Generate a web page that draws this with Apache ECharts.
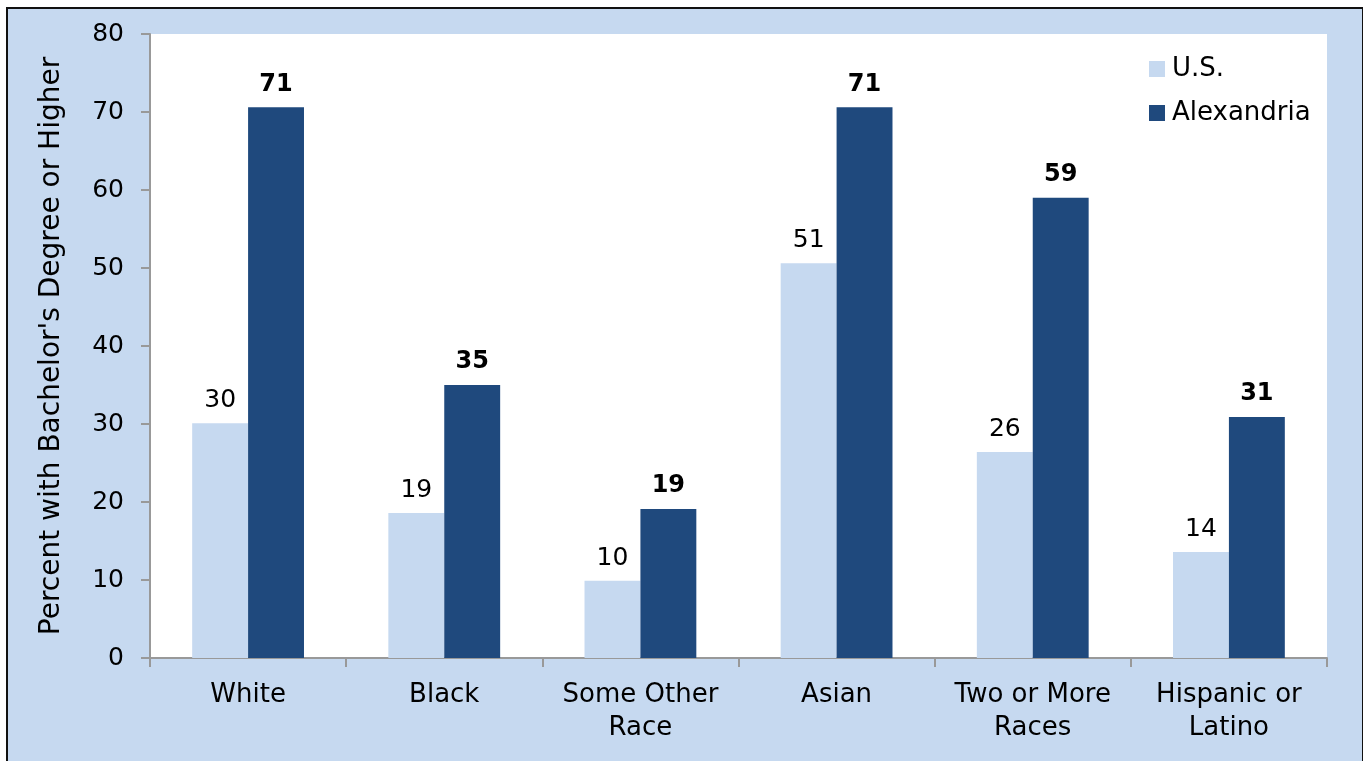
<!DOCTYPE html>
<html>
<head>
<meta charset="utf-8">
<script src="https://cdn.jsdelivr.net/npm/echarts@6/dist/echarts.min.js"></script>
<style>
    html, body {
        margin: 0;
        padding: 0;
        background: #fff;
    }

    .frame {
        position: absolute;
        left: 6px;
        top: 7px;
        width: 1354px;
        height: 770px;
        border: 2px solid #111;
        background: #c6d9f0;
    }

    #chart {
        position: absolute;
        left: 0;
        top: 0;
        width: 1363px;
        height: 761px;
    }
</style>
</head>
<body>
<div class="frame"></div>
<div id="chart"></div>
<script>
// 类别与数据
const categories = ['White', 'Black', 'Some Other\nRace', 'Asian', 'Two or More\nRaces', 'Hispanic or\nLatino'];
const usValues = [30.1, 18.6, 9.9, 50.6, 26.4, 13.6];
const alexValues = [70.6, 35.0, 19.1, 70.6, 59.0, 30.9];
const yTicks = [0, 10, 20, 30, 40, 50, 60, 70, 80];

const fontFamily = '"DejaVu Sans", Verdana, sans-serif';

var myChart = echarts.init(document.getElementById('chart'));

var options = {
    backgroundColor: 'transparent',
    textStyle: {
        fontFamily: fontFamily
    },
    legend: {
        orient: 'vertical',
        left: 1149,
        top: 56,
        padding: 0,
        itemWidth: 16,
        itemHeight: 16,
        itemGap: 18,
        icon: 'rect',
        textStyle: {
            color: '#000',
            fontSize: 26,
            fontFamily: fontFamily,
            padding: [0, 0, 0, 2]
        },
        data: ['U.S.', 'Alexandria']
    },
    grid: {
        left: 150,
        top: 34,
        right: 36,
        bottom: 103,
        show: true,
        backgroundColor: '#fff',
        borderWidth: 0
    },
    xAxis: {
        type: 'category',
        data: categories,
        axisLine: {
            show: true,
            lineStyle: { color: '#999', width: 2 }
        },
        axisTick: {
            show: true,
            length: 9,
            interval: 0,
            alignWithLabel: false,
            lineStyle: { color: '#999', width: 2 }
        },
        axisLabel: {
            interval: 0,
            color: '#000',
            fontSize: 26,
            lineHeight: 33,
            margin: 21,
            fontFamily: fontFamily
        }
    },
    yAxis: {
        type: 'value',
        min: yTicks[0],
        max: yTicks[yTicks.length - 1],
        interval: 10,
        name: "Percent with Bachelor's Degree or Higher",
        nameLocation: 'middle',
        nameGap: 84,
        nameTextStyle: {
            color: '#000',
            fontSize: 28,
            fontFamily: fontFamily
        },
        splitLine: { show: false },
        axisLine: {
            show: true,
            lineStyle: { color: '#999', width: 2 }
        },
        axisTick: {
            show: true,
            length: 9,
            lineStyle: { color: '#999', width: 2 }
        },
        axisLabel: {
            color: '#000',
            fontSize: 25,
            margin: 26,
            fontFamily: fontFamily
        }
    },
    series: [
        {
            name: 'U.S.',
            type: 'bar',
            data: usValues,
            barGap: '0%',
            barCategoryGap: '43%',
            itemStyle: { color: '#c6d9f0' },
            label: {
                show: true,
                position: 'top',
                distance: 10,
                color: '#000',
                fontSize: 25,
                fontFamily: fontFamily,
                formatter: (p) => Math.round(p.value)
            }
        },
        {
            name: 'Alexandria',
            type: 'bar',
            data: alexValues,
            barGap: '0%',
            barCategoryGap: '43%',
            itemStyle: { color: '#1f497d' },
            label: {
                show: true,
                position: 'top',
                distance: 11,
                color: '#000',
                fontSize: 24,
                fontWeight: 'bold',
                fontFamily: fontFamily,
                formatter: (p) => Math.round(p.value)
            }
        }
    ]
};

// 绘制图表
myChart.setOption(options);
</script>
</body>
</html>
